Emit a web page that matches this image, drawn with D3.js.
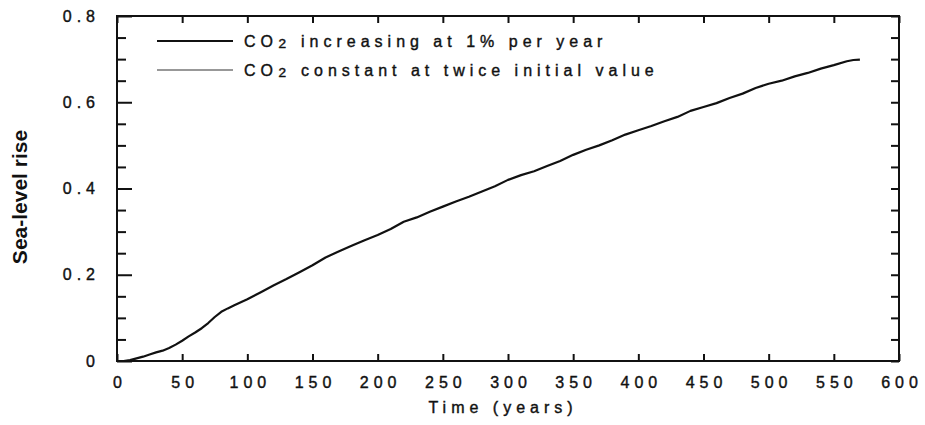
<!DOCTYPE html>
<html>
<head>
<meta charset="utf-8">
<script src="https://cdn.jsdelivr.net/npm/d3@7"></script>
<style>
  html, body { margin: 0; padding: 0; background: #fff; }
  svg { display: block; }
  text { font-family: "Liberation Sans", Arial, sans-serif; fill: #111; }
</style>
</head>
<body>
<svg id="chart" width="925" height="425"></svg>
<script>
// ---- data ----
const years = [5, 10, 15, 20, 25, 30, 35, 40, 45, 50, 55, 60, 65, 70, 75, 80, 85, 90,
  100, 110, 120, 130, 140, 150, 160, 170, 180, 190, 200, 210, 220, 230, 240, 250,
  260, 270, 280, 290, 300, 310, 320, 330, 340, 350, 360, 370, 380, 390, 400, 410,
  420, 430, 440, 450, 460, 470, 480, 490, 500, 510, 520, 530, 540, 550, 560, 565, 570];
const seaLevelIncreasing = [0.000, 0.002, 0.006, 0.010, 0.015, 0.020, 0.024, 0.030, 0.038, 0.047,
  0.057, 0.066, 0.076, 0.088, 0.102, 0.114, 0.122, 0.129,
  0.143, 0.159, 0.175, 0.190, 0.206, 0.222, 0.240, 0.254, 0.267, 0.280, 0.292, 0.306,
  0.323, 0.333, 0.346, 0.358, 0.370, 0.381, 0.393, 0.405, 0.420, 0.431, 0.440, 0.452,
  0.464, 0.478, 0.490, 0.500, 0.512, 0.525, 0.535, 0.545, 0.556, 0.566, 0.580, 0.589,
  0.598, 0.610, 0.620, 0.633, 0.643, 0.650, 0.660, 0.668, 0.678, 0.686, 0.695, 0.698, 0.699];
const seriesPrefix = "CO";
const seriesSub = "\u2082";
const seriesRest = [" increasing at 1% per year", " constant at twice initial value"];
const xTickValues = [0, 50, 100, 150, 200, 250, 300, 350, 400, 450, 500, 550, 600];
const yTickValues = [0, 0.2, 0.4, 0.6, 0.8];
const yMinorTickValues = [0.05, 0.1, 0.15, 0.25, 0.3, 0.35, 0.45, 0.5, 0.55, 0.65, 0.7, 0.75];
const xTitle = "Time (years)";
const yTitle = "Sea-level rise";

// ---- layout ----
const svg = d3.select("#chart");
const L = 117, R = 899, T = 16, B = 361;
const LS = 5; // letter spacing of the plain text
const x = d3.scaleLinear().domain([0, 600]).range([L, R]);
const y = d3.scaleLinear().domain([0, 0.8]).range([B, T]);
const yFmt = d => d === 0 ? "0" : d3.format(".1f")(d);

function styleAxis(g) {
  g.select(".domain").remove();
  g.selectAll("line").attr("stroke", "#111").attr("stroke-width", 2);
}
function heavy(sel) {
  sel.attr("stroke", "#111").attr("stroke-width", 0.4);
}
function styleLabels(g) {
  g.selectAll("text").attr("font-size", 16).attr("letter-spacing", LS)
    .attr("font-family", "Liberation Sans, Arial, sans-serif").attr("fill", "#111")
    .call(heavy);
}

// left axis: major ticks inward with labels
svg.append("g").attr("transform", `translate(${L},0)`)
  .call(d3.axisLeft(y).tickValues(yTickValues).tickSize(-15).tickPadding(17).tickFormat(yFmt))
  .call(styleAxis)
  .call(styleLabels);
svg.append("g").attr("transform", `translate(${L},0)`)
  .call(d3.axisLeft(y).tickValues(yMinorTickValues).tickSize(-9).tickFormat(""))
  .call(styleAxis);

// right axis: inward ticks
svg.append("g").attr("transform", `translate(${R},0)`)
  .call(d3.axisRight(y).tickValues(yTickValues.concat(yMinorTickValues)).tickSize(-8).tickFormat(""))
  .call(styleAxis);

// bottom axis
svg.append("g").attr("transform", `translate(0,${B})`)
  .call(d3.axisBottom(x).tickValues(xTickValues).tickSize(-7).tickPadding(16))
  .call(styleAxis)
  .call(styleLabels)
  .call(g => g.selectAll("text").attr("dx", LS / 2));

// top axis
svg.append("g").attr("transform", `translate(0,${T})`)
  .call(d3.axisTop(x).tickValues(xTickValues).tickSize(-7).tickFormat(""))
  .call(styleAxis);

// frame
svg.append("rect").attr("x", L).attr("y", T).attr("width", R - L).attr("height", B - T)
  .attr("fill", "none").attr("stroke", "#111").attr("stroke-width", 2);

// axis titles
svg.append("text").attr("x", x(300) - 5).attr("y", 413).attr("text-anchor", "middle")
  .attr("font-size", 16).attr("letter-spacing", LS).call(heavy).text(xTitle);
svg.append("text").attr("transform", `translate(27,197) rotate(-90)`)
  .attr("text-anchor", "middle").attr("font-size", 21).attr("font-weight", "bold")
  .attr("font-family", "Liberation Sans, Arial, sans-serif").text(yTitle);

// curve
const data = years.map((t, i) => [t, seaLevelIncreasing[i]]);
svg.append("path").datum(data)
  .attr("fill", "none").attr("stroke", "#111").attr("stroke-width", 2.2)
  .attr("stroke-linejoin", "round")
  .attr("d", d3.line().x(d => x(d[0])).y(d => y(d[1])));

// legend
const legend = svg.append("g");
const legY = [41, 70];
legend.append("line").attr("x1", 157).attr("x2", 233).attr("y1", legY[0]).attr("y2", legY[0])
  .attr("stroke", "#111").attr("stroke-width", 2);
legend.append("line").attr("x1", 157).attr("x2", 233).attr("y1", legY[1]).attr("y2", legY[1])
  .attr("stroke", "#333").attr("stroke-width", 1.2);
seriesRest.forEach((rest, i) => {
  const t = legend.append("text").attr("x", 244).attr("y", legY[i] + 5.5)
    .attr("font-size", 16).attr("letter-spacing", LS).call(heavy);
  t.append("tspan").text(seriesPrefix);
  t.append("tspan").attr("font-size", 22).attr("dy", -1).text(seriesSub);
  t.append("tspan").attr("dy", 1).text(rest);
});
</script>
</body>
</html>
